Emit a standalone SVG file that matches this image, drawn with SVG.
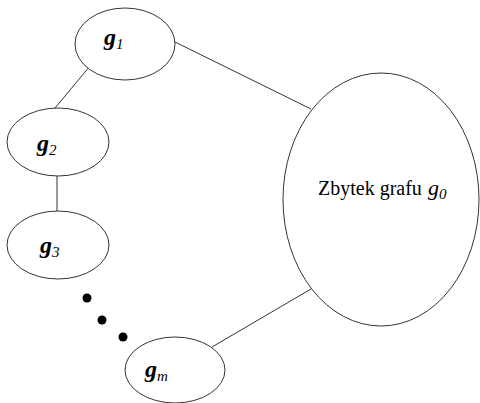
<svg xmlns="http://www.w3.org/2000/svg" width="480" height="403" viewBox="0 0 480 403">
<style>
.n{fill:#fff;stroke:#333;stroke-width:1}
.e{stroke:#333;stroke-width:1;fill:none}
text{font-family:'Liberation Serif','DejaVu Serif',serif;fill:#000}
.g{font-size:24px;font-style:italic;font-weight:bold}
.s{font-size:15px;font-style:italic;font-weight:normal}
</style>
<rect width="480" height="403" fill="#fff"/>
<g id="connectors">
<line class="e" x1="175" y1="42" x2="311" y2="109"/>
<line class="e" x1="90" y1="66" x2="55" y2="108"/>
<line class="e" x1="57" y1="176" x2="57" y2="212"/>
<line class="e" x1="212" y1="347" x2="311" y2="289"/>
</g>
<g id="g1">
<ellipse class="n" cx="125" cy="44" rx="50" ry="36"/>
<text class="g" x="104" y="45">g<tspan class="s" dy="4">1</tspan></text>
</g>
<g id="g2">
<ellipse class="n" cx="58" cy="142" rx="51" ry="34"/>
<text class="g" x="37" y="151">g<tspan class="s" dy="4">2</tspan></text>
</g>
<g id="g3">
<ellipse class="n" cx="58" cy="245" rx="51" ry="34"/>
<text class="g" x="40" y="253">g<tspan class="s" dy="4">3</tspan></text>
</g>
<g id="dots">
<circle cx="87" cy="298" r="4.5" fill="#000"/>
<circle cx="102" cy="320" r="4.5" fill="#000"/>
<circle cx="123" cy="337" r="4.5" fill="#000"/>
</g>
<g id="gm">
<ellipse class="n" cx="175" cy="370" rx="50" ry="33"/>
<text class="g" x="145" y="377">g<tspan class="s" dy="4">m</tspan></text>
</g>
<g id="g0">
<ellipse class="n" cx="381" cy="199.5" rx="98" ry="126.5"/>
<text x="318" y="195" font-size="20">Zbytek grafu <tspan x="428" font-style="italic" font-size="22">g</tspan><tspan font-style="italic" font-size="15" dy="4">0</tspan></text>
</g>
</svg>
